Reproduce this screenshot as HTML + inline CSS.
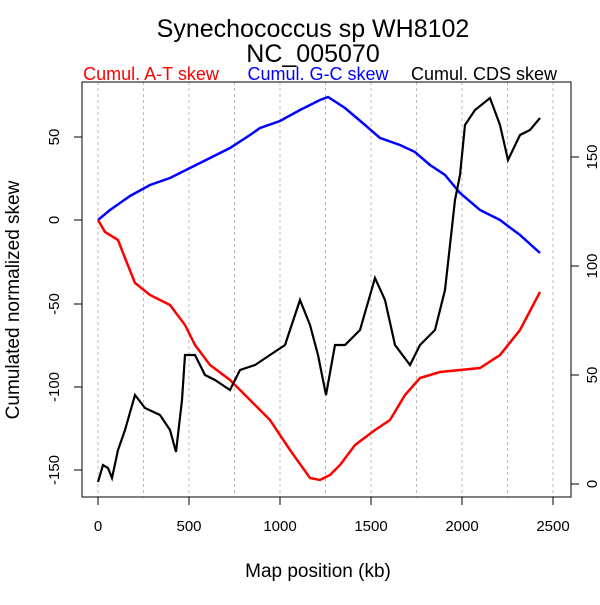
<!DOCTYPE html><html><head><style>body{margin:0;background:#fff}</style></head><body>
<svg width="600" height="600" xmlns="http://www.w3.org/2000/svg" font-family="Liberation Sans, sans-serif">
<rect width="600" height="600" fill="#fff"/>
<text x="313" y="37" font-size="25" text-anchor="middle">Synechococcus sp WH8102</text>
<text x="313" y="62" font-size="25" text-anchor="middle">NC_005070</text>
<text x="151" y="80" font-size="18" fill="red" text-anchor="middle">Cumul. A-T skew</text>
<text x="318" y="80" font-size="18" fill="blue" text-anchor="middle">Cumul. G-C skew</text>
<text x="484" y="80" font-size="18" fill="#000" text-anchor="middle">Cumul. CDS skew</text>
<g stroke="#bbb" stroke-dasharray="3,3" stroke-width="1">
<line x1="98" y1="82" x2="98" y2="497"/><line x1="143.5" y1="82" x2="143.5" y2="497"/><line x1="189" y1="82" x2="189" y2="497"/><line x1="234.5" y1="82" x2="234.5" y2="497"/><line x1="280" y1="82" x2="280" y2="497"/><line x1="325.5" y1="82" x2="325.5" y2="497"/><line x1="371" y1="82" x2="371" y2="497"/><line x1="416.5" y1="82" x2="416.5" y2="497"/><line x1="462" y1="82" x2="462" y2="497"/><line x1="507.5" y1="82" x2="507.5" y2="497"/><line x1="553" y1="82" x2="553" y2="497"/>
</g>
<rect x="82" y="82" width="489" height="415" fill="none" stroke="#000"/>
<g stroke="#000" fill="none">
<line x1="98" y1="497" x2="98" y2="505"/><line x1="189" y1="497" x2="189" y2="505"/><line x1="280" y1="497" x2="280" y2="505"/><line x1="371" y1="497" x2="371" y2="505"/><line x1="462" y1="497" x2="462" y2="505"/><line x1="553" y1="497" x2="553" y2="505"/>
<line x1="74" y1="137" x2="82" y2="137"/><line x1="74" y1="220" x2="82" y2="220"/><line x1="74" y1="304" x2="82" y2="304"/><line x1="74" y1="387" x2="82" y2="387"/><line x1="74" y1="470" x2="82" y2="470"/>
<line x1="571" y1="157" x2="579" y2="157"/><line x1="571" y1="266" x2="579" y2="266"/><line x1="571" y1="375" x2="579" y2="375"/><line x1="571" y1="484" x2="579" y2="484"/>
</g>
<g font-size="15" text-anchor="middle">
<text x="98" y="531">0</text><text x="189" y="531">500</text><text x="280" y="531">1000</text><text x="371" y="531">1500</text><text x="462" y="531">2000</text><text x="553" y="531">2500</text>
<text transform="translate(59,137) rotate(-90)">50</text><text transform="translate(59,220) rotate(-90)">0</text><text transform="translate(59,304) rotate(-90)">-50</text><text transform="translate(59,387) rotate(-90)">-100</text><text transform="translate(59,470) rotate(-90)">-150</text>
<text transform="translate(597,157) rotate(-90)">150</text><text transform="translate(597,266) rotate(-90)">100</text><text transform="translate(597,375) rotate(-90)">50</text><text transform="translate(597,484) rotate(-90)">0</text>
</g>
<text x="318" y="577" font-size="19" text-anchor="middle">Map position (kb)</text>
<text transform="translate(19,300) rotate(-90)" font-size="19" text-anchor="middle">Cumulated normalized skew</text>
<polyline fill="none" stroke="blue" stroke-width="2.5" points="98,220 110,210 130,196 150,185 170,178 190,168 210,158 230,148 250,135 260,128 280,121 300,110 320,100 328,97 345,108 365,125 380,138 400,145 415,152 430,165 445,175 460,193 480,210 500,220 520,235 540,253"/>
<polyline fill="none" stroke="red" stroke-width="2.5" points="98,220 105,232 118,240 125,258 135,283 150,295 170,305 185,325 195,345 210,365 230,380 250,400 270,420 290,450 310,478 320,480 330,475 340,465 355,445 375,430 390,420 405,395 420,378 440,372 460,370 480,368 500,355 520,330 540,292"/>
<polyline fill="none" stroke="#000" stroke-width="2.2" points="98,482 103,465 108,468 112,478 118,450 125,430 135,395 145,408 160,415 170,430 176,452 182,400 185,355 195,355 205,375 215,380 230,390 240,370 255,365 270,355 285,345 300,300 310,325 318,355 326,395 335,345 345,345 360,330 375,278 385,300 395,345 410,365 420,345 435,330 445,290 455,200 460,175 465,125 475,110 490,98 500,125 508,160 520,135 530,130 540,118"/>
</svg>
</body></html>
